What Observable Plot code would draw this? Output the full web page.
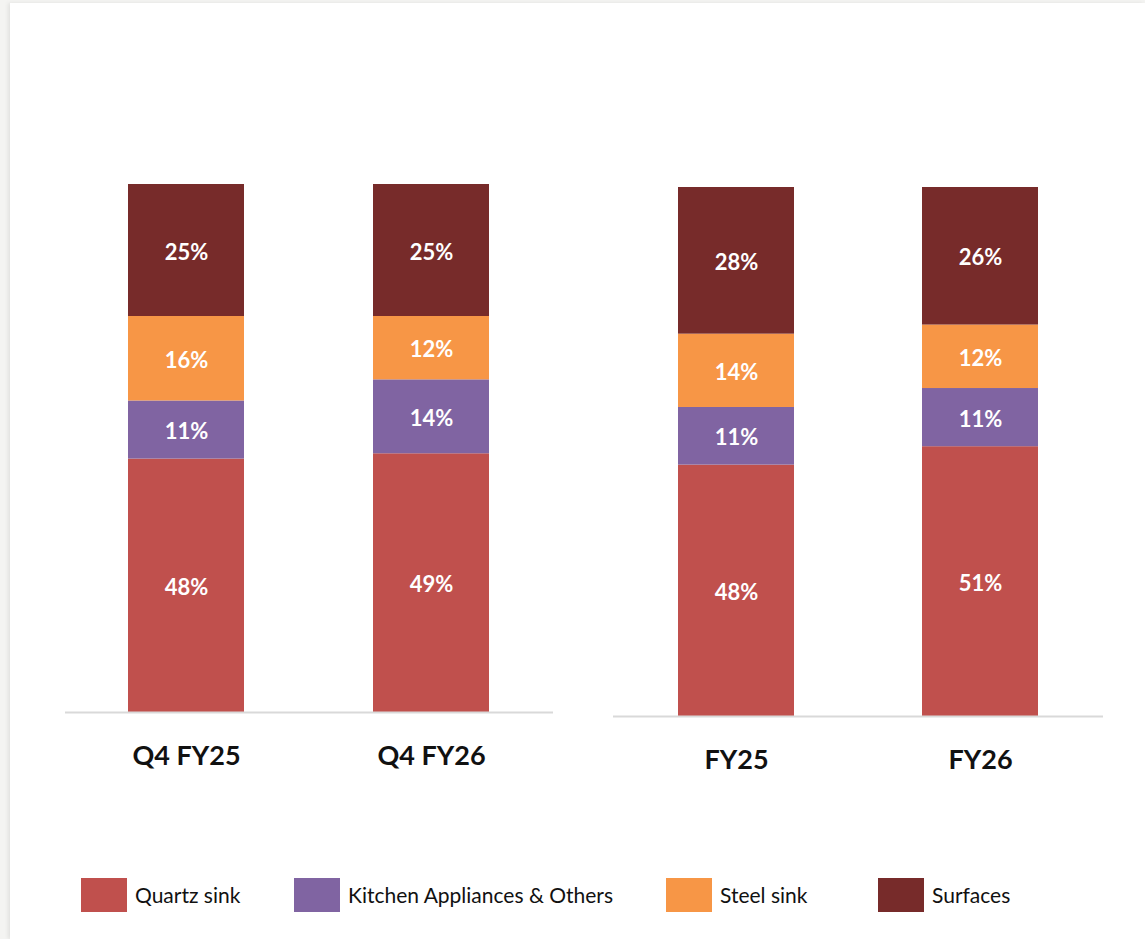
<!DOCTYPE html>
<html>
<head>
<meta charset="utf-8">
<script src="https://cdn.jsdelivr.net/npm/d3@7"></script>
<script src="https://cdn.jsdelivr.net/npm/@observablehq/plot@0.6"></script>
<style>
  html, body { margin: 0; padding: 0; }
  body { width: 1145px; height: 939px; background: #f4f4f2; position: relative; overflow: hidden; font-family: Lato, "Open Sans", sans-serif; }
  #card { position: absolute; left: 10px; top: 3px; width: 1135px; height: 936px; background: #ffffff; box-shadow: -2px 0 4px rgba(0,0,0,0.08); }
  .panel { position: absolute; top: 0; }
  .legend-item { position: absolute; top: 878px; display: flex; align-items: center; height: 34px; font-size: 21px; color: #111; white-space: nowrap; }
  .legend-item .sw { width: 46px; height: 34px; margin-right: 8px; }
  .legend-item span { position: relative; top: -1px; }
</style>
</head>
<body>
<div id="card"></div>
<div id="left" class="panel" style="left:0px"></div>
<div id="right" class="panel" style="left:583px"></div>
<div id="legend"></div>
<script>
// ---- data ----
const segments = ["Quartz sink", "Kitchen Appliances & Others", "Steel sink", "Surfaces"];
const colors = ["#c0504d", "#8064a2", "#f79646", "#772b2a"];
const quarterPeriods = ["Q4 FY25", "Q4 FY26"];
const yearPeriods = ["FY25", "FY26"];
const q4fy25 = [48, 11, 16, 25];
const q4fy26 = [49, 14, 12, 25];
const fy25 = [48, 11, 14, 28];
const fy26 = [51, 11, 12, 26];

function rows(periods, seriesList) {
  const out = [];
  periods.forEach((p, i) => {
    segments.forEach((s, j) => out.push({period: p, segment: s, value: seriesList[i][j]}));
  });
  return out;
}

const quarterData = rows(quarterPeriods, [q4fy25, q4fy26]);
const yearData = rows(yearPeriods, [fy25, fy26]);

function makePanel(data, periods, opts) {
  const stackOpts = {x: "period", y: "value", z: "segment", order: segments, offset: "normalize"};
  return Plot.plot({
    width: opts.width,
    height: opts.height,
    marginTop: opts.marginTop,
    marginBottom: opts.marginBottom,
    marginLeft: opts.marginLeft,
    marginRight: opts.marginRight,
    style: {fontFamily: "Lato, 'Open Sans', sans-serif", background: "transparent", overflow: "visible"},
    x: {domain: periods, paddingInner: opts.paddingInner, paddingOuter: opts.paddingOuter, label: null},
    y: {domain: [0, 1], axis: null},
    color: {domain: segments, range: colors},
    marks: [
      Plot.barY(data, Plot.stackY({...stackOpts, fill: "segment", inset: 0})),
      Plot.text(data, Plot.stackY({...stackOpts, text: d => d.value + "%", fill: "white", fontWeight: "bold", fontSize: 22, dy: 2})),
      Plot.ruleY([0], {stroke: "#d9d9d9", strokeWidth: 2}),
      Plot.axisX({tickSize: 0, tickPadding: 33, fontSize: 27, fontWeight: "bold", fill: "#111", label: null})
    ]
  });
}

document.getElementById("left").append(makePanel(quarterData, quarterPeriods, {
  width: 583, height: 800, marginTop: 184, marginBottom: 88, marginLeft: 65, marginRight: 30,
  paddingInner: 0.5265, paddingOuter: 0.259
}));
document.getElementById("right").append(makePanel(yearData, yearPeriods, {
  width: 562, height: 800, marginTop: 187, marginBottom: 84, marginLeft: 30, marginRight: 42,
  paddingInner: 0.5246, paddingOuter: 0.266
}));

// ---- legend ----
const legendLeft = [81, 294, 666, 878];
const legend = document.getElementById("legend");
segments.forEach((s, i) => {
  const item = document.createElement("div");
  item.className = "legend-item";
  item.style.left = legendLeft[i] + "px";
  const sw = document.createElement("div");
  sw.className = "sw";
  sw.style.background = colors[i];
  const label = document.createElement("span");
  label.textContent = s;
  item.append(sw, label);
  legend.append(item);
});
</script>
</body>
</html>
